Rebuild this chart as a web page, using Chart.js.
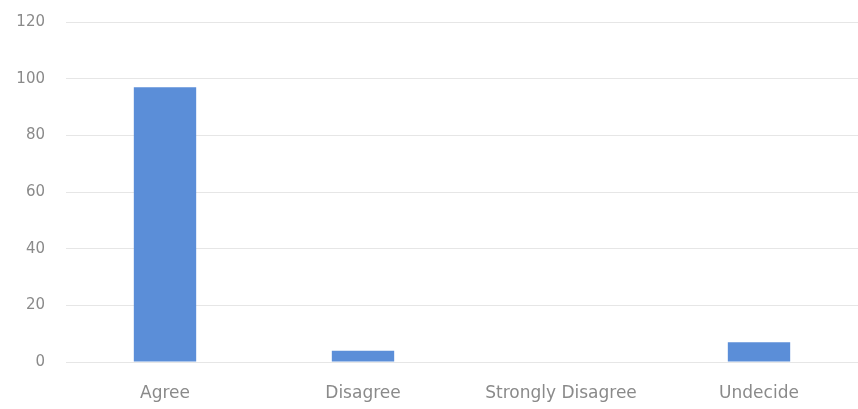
<!DOCTYPE html>
<html>
<head>
<meta charset="utf-8">
<script src="https://cdn.jsdelivr.net/npm/chart.js@4/dist/chart.umd.min.js"></script>
<style>
  html, body { margin: 0; padding: 0; background: #fff; }
  #wrap { width: 858px; height: 409px; position: relative; }
</style>
</head>
<body>
<div id="wrap"><canvas id="chart"></canvas></div>
<script>
// data
const categories = ['Agree', 'Disagree', 'Strongly Disagree', 'Undecide'];
const responses = [97, 4, 0, 7];
const yTicks = [0, 20, 40, 60, 80, 100, 120];

const ctx = document.getElementById('chart').getContext('2d');
new Chart(ctx, {
  type: 'bar',
  data: {
    labels: categories,
    datasets: [{
      data: responses,
      backgroundColor: '#5b8ed8',
      borderWidth: 0,
      categoryPercentage: 1,
      barPercentage: 0.315
    }]
  },
  options: {
    responsive: true,
    maintainAspectRatio: false,
    animation: false,
    layout: { padding: { top: 22, right: 0, left: 0, bottom: 0 } },
    plugins: {
      legend: { display: false },
      tooltip: { enabled: false }
    },
    scales: {
      x: {
        afterFit: axis => { axis.height = 47; },
        grid: { display: false },
        border: { display: false },
        ticks: { color: '#8a8a8a', font: { family: 'DejaVu Sans', size: 17 }, padding: 13 }
      },
      y: {
        min: 0,
        max: 120,
        afterBuildTicks: axis => { axis.ticks = yTicks.map(v => ({ value: v })); },
        afterFit: axis => { axis.width = 66; axis.paddingTop = 0; axis.paddingBottom = 0; },
        grid: { color: '#e6e6e6', drawTicks: false },
        border: { display: false },
        ticks: { color: '#8a8a8a', font: { family: 'DejaVu Sans', size: 15 }, padding: 21 }
      }
    }
  }
});
</script>
</body>
</html>
